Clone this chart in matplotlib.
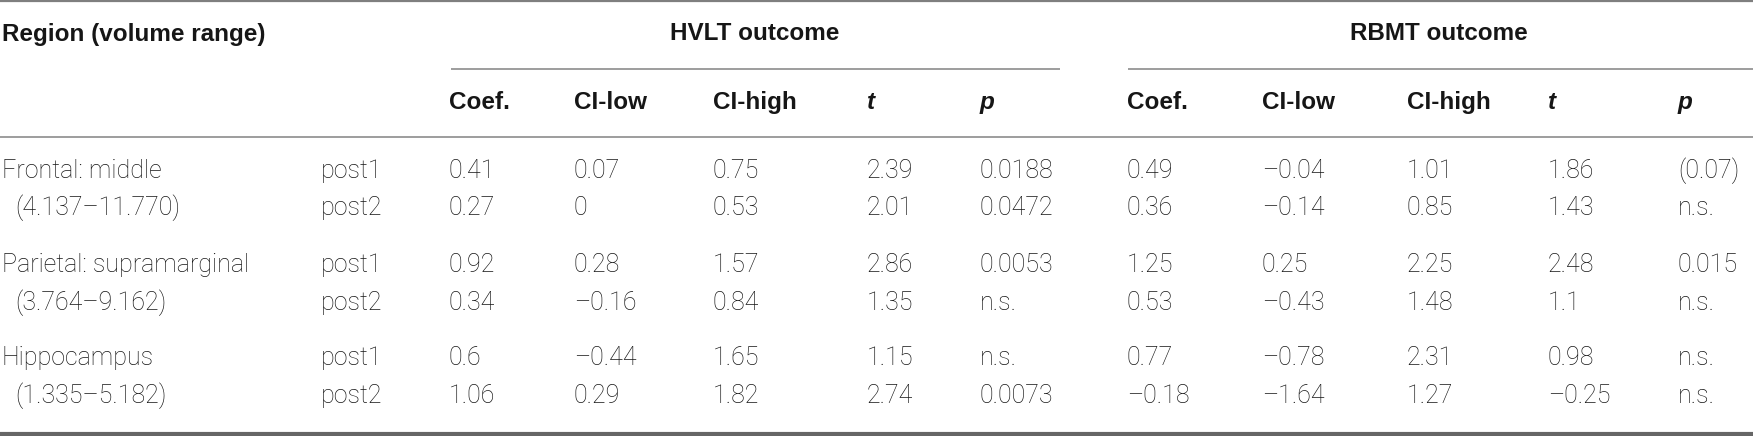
import matplotlib
matplotlib.use("Agg")
import matplotlib.pyplot as plt

# ---- data ----
regions = ["Frontal: middle", "Parietal: supramarginal", "Hippocampus"]
ranges = ["(4.137–11.770)", "(3.764–9.162)", "(1.335–5.182)"]
times = ["post1", "post2"]
columns = ["Coef.", "CI-low", "CI-high", "t", "p"]
groups = ["HVLT outcome", "RBMT outcome"]

hvlt_coef = ["0.41", "0.27", "0.92", "0.34", "0.6", "1.06"]
hvlt_cilow = ["0.07", "0", "0.28", "–0.16", "–0.44", "0.29"]
hvlt_cihigh = ["0.75", "0.53", "1.57", "0.84", "1.65", "1.82"]
hvlt_t = ["2.39", "2.01", "2.86", "1.35", "1.15", "2.74"]
hvlt_p = ["0.0188", "0.0472", "0.0053", "n.s.", "n.s.", "0.0073"]

rbmt_coef = ["0.49", "0.36", "1.25", "0.53", "0.77", "–0.18"]
rbmt_cilow = ["–0.04", "–0.14", "0.25", "–0.43", "–0.78", "–1.64"]
rbmt_cihigh = ["1.01", "0.85", "2.25", "1.48", "2.31", "1.27"]
rbmt_t = ["1.86", "1.43", "2.48", "1.1", "0.98", "–0.25"]
rbmt_p = ["(0.07)", "n.s.", "0.015", "n.s.", "n.s.", "n.s."]

# ---- layout ----
W, H = 1753, 436
fig = plt.figure(figsize=(W / 100, H / 100), dpi=100)
ax = fig.add_axes([0, 0, 1, 1])
ax.set_xlim(0, W)
ax.set_ylim(H, 0)
ax.axis("off")

TXT = "#161616"
BODY = dict(family=["Roboto", "DejaVu Sans"], fontweight="light", fontsize=18, color=TXT, va="center", ha="left")
HEAD = dict(family=["Liberation Sans", "DejaVu Sans"], fontweight="bold", fontsize=17.5, color=TXT, va="center", ha="left")

# rules
ax.plot([0, W], [1.5, 1.5], color="#7f7f7f", lw=1.6, solid_capstyle="butt")
ax.plot([451, 1060], [69, 69], color="#8c8c8c", lw=1.2, solid_capstyle="butt")
ax.plot([1128, W], [69, 69], color="#8c8c8c", lw=1.2, solid_capstyle="butt")
ax.plot([0, W], [137.5, 137.5], color="#8c8c8c", lw=1.2, solid_capstyle="butt")
ax.plot([0, W], [433.5, 433.5], color="#666666", lw=3.0, solid_capstyle="butt")

# group headers
ax.text(2, 34, "Region (volume range)", **HEAD)
group_centers = [755, 1439]
for g, cx in zip(groups, group_centers):
    ax.text(cx, 33, g, **{**HEAD, "ha": "center"})

# column headers
col_x = [[449, 574, 713, 867, 980], [1127, 1262, 1407, 1548, 1678]]
for xs in col_x:
    for c, x in zip(columns, xs):
        style = dict(HEAD)
        if c in ("t", "p"):
            style["fontstyle"] = "italic"
        ax.text(x, 102, c, **style)

# body rows
row_y = [171, 208, 265, 303, 358, 396]
for i, (reg, rng) in enumerate(zip(regions, ranges)):
    ax.text(2, row_y[2 * i], reg, **BODY)
    ax.text(15, row_y[2 * i + 1], rng, **BODY)
for j, y in enumerate(row_y):
    ax.text(321, y, times[j % 2], **BODY)

hvlt = [hvlt_coef, hvlt_cilow, hvlt_cihigh, hvlt_t, hvlt_p]
rbmt = [rbmt_coef, rbmt_cilow, rbmt_cihigh, rbmt_t, rbmt_p]
for block, xs in zip([hvlt, rbmt], col_x):
    for col, x in zip(block, xs):
        for val, y in zip(col, row_y):
            ax.text(x, y, val, **BODY)

fig.savefig("out.png", dpi=100)
